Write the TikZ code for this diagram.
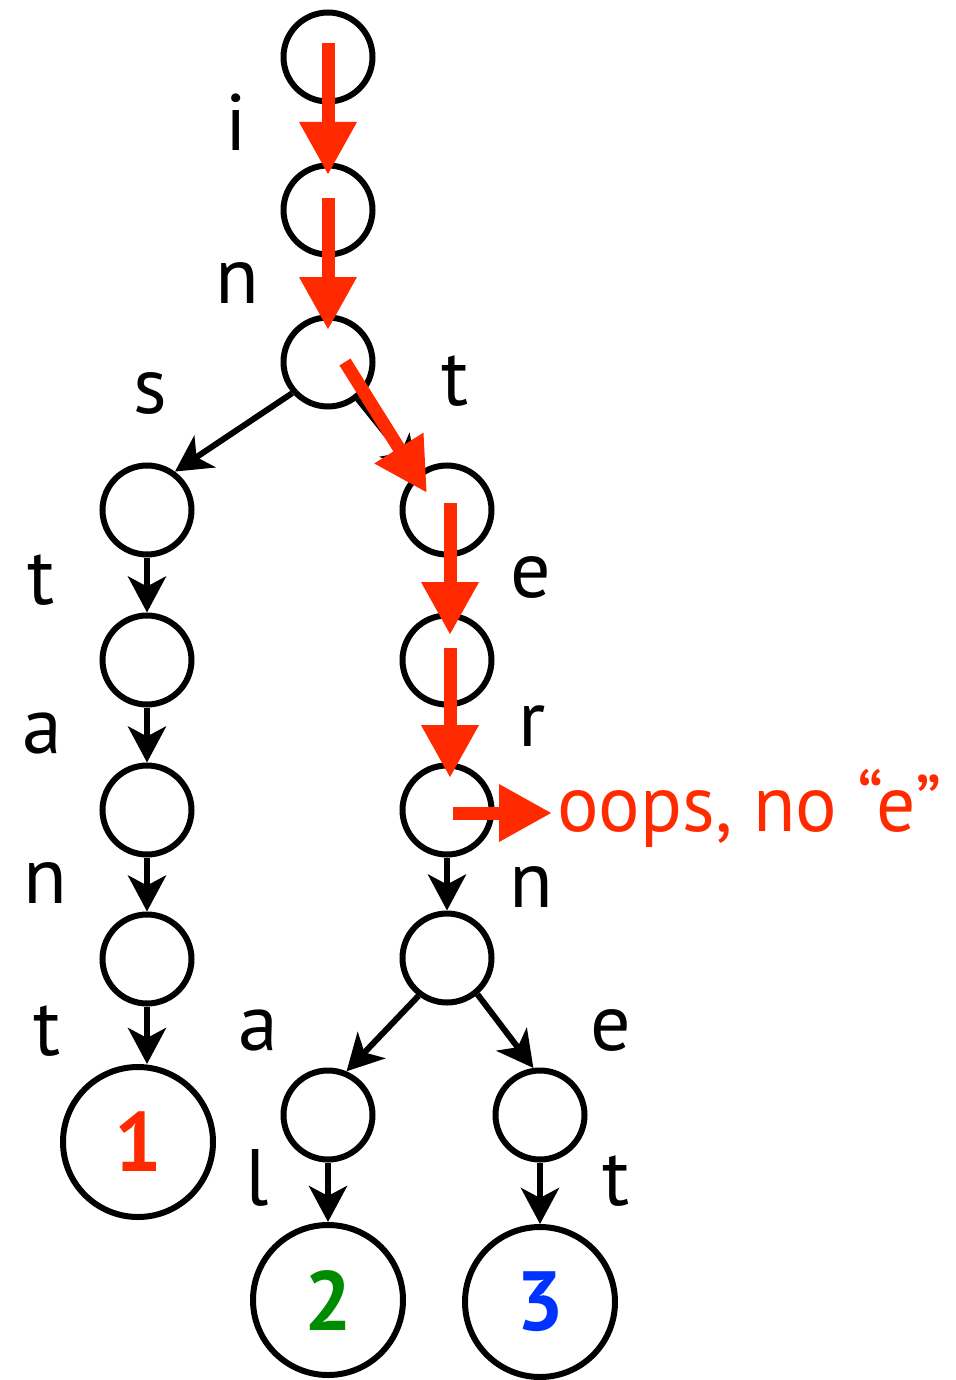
\documentclass[tikz,border=0pt]{standalone}
\usepackage{fontspec}
\setmainfont{PT Sans}
\newfontfamily\oopsfont[FakeStretch=0.97]{PT Sans}
\usetikzlibrary{arrows.meta,calc}
\definecolor{hot}{RGB}{255,42,0}
\definecolor{dgreen}{RGB}{0,140,0}
\definecolor{vblue}{RGB}{0,51,255}
\begin{document}
\begin{tikzpicture}[x=1pt,y=-1pt,
  st/.style={circle,draw,line width=6pt,minimum size=89pt,inner sep=0pt},
  leaf/.style={circle,draw,line width=6pt,minimum size=150pt,inner sep=0pt,font=\fontsize{84}{96}\selectfont\bfseries},
  lbl/.style={anchor=base,inner sep=0pt,font=\fontsize{80}{96}\selectfont},
  edge/.style={line width=6pt,-{Stealth[length=36pt,width=38pt,inset=10pt]}},
  redarrow/.style={hot,line width=13pt,-{Triangle[length=53pt,width=54pt]}}]
\useasboundingbox (0,0) rectangle (955,1380);
% nodes
\node[st] (root) at (328,57) {};
\node[st] (n1) at (328,210) {};
\node[st] (n2) at (328,362) {};
\node[st] (s1) at (147,510) {};
\node[st] (s2) at (147,660) {};
\node[st] (s3) at (147,810) {};
\node[st] (s4) at (147,959) {};
\node[leaf,text=hot] (leaf1) at (138,1142) {1};
\node[st] (t1) at (447,510) {};
\node[st] (e1) at (447,660) {};
\node[st] (r1) at (447,810) {};
\node[st] (m1) at (447,958) {};
\node[st] (a1) at (328,1115) {};
\node[st] (b1) at (540,1115) {};
\node[leaf,text=dgreen] (leaf2) at (328,1300) {2};
\node[leaf,text=vblue] (leaf3) at (540,1302) {3};
% black edges
\draw[edge] (n2.221) -- (s1.54);
\draw[edge] (n2) -- (t1);
\draw[edge] (s1) -- (s2);
\draw[edge] (s2) -- (s3);
\draw[edge] (s3) -- (s4);
\draw[edge] (s4.south) -- (s4.south |- leaf1.north);
\draw[edge] (r1) -- (m1);
\draw[edge] (m1.233) -- (a1.67);
\draw[edge] (m1.310) -- (b1.98);
\draw[edge] (a1) -- (leaf2);
\draw[edge] (b1) -- (leaf3);
% labels
\node[lbl] (li) at (236,151) {i};
\node[lbl] (ln) at (237,303) {n};
\node[lbl] (ls) at (150,413) {s};
\node[lbl] (lt) at (455,405) {t};
\node[lbl] (lt2) at (41,604) {t};
\node[lbl] (la) at (42,753) {a};
\node[lbl] (ln2) at (45,903) {n};
\node[lbl] (lt3) at (47,1055) {t};
\node[lbl] (le) at (531,597) {e};
\node[lbl] (lr) at (532,746) {r};
\node[lbl] (ln3) at (531,907) {n};
\node[lbl] (la2) at (258,1050) {a};
\node[lbl] (le2) at (611,1050) {e};
\node[lbl] (ll) at (257,1205) {l};
\node[lbl] (lt4) at (616,1205) {t};
\node[anchor=base west,inner sep=0pt,text=hot,font=\oopsfont\fontsize{80}{96}\selectfont] (oops) at (557,831) {oops, no “e”};
% red search path
\draw[redarrow] ($(root)+(0,-14)$) -- ($(n1)+(0,-35)$);
\draw[redarrow] ($(n1)+(0,-12)$) -- ($(n2)+(0,-32)$);
\draw[redarrow] ($(n2)+(17,0)$) -- ($(t1)+(-20,-17)$);
\draw[redarrow] ($(t1)+(3,-7)$) -- ($(e1)+(3,-25)$);
\draw[redarrow] ($(e1)+(3,-12)$) -- ($(r1)+(3,-32)$);
\draw[redarrow] ($(r1)+(6,3)$) -- ($(r1)+(105,3)$);
\end{tikzpicture}
\end{document}
